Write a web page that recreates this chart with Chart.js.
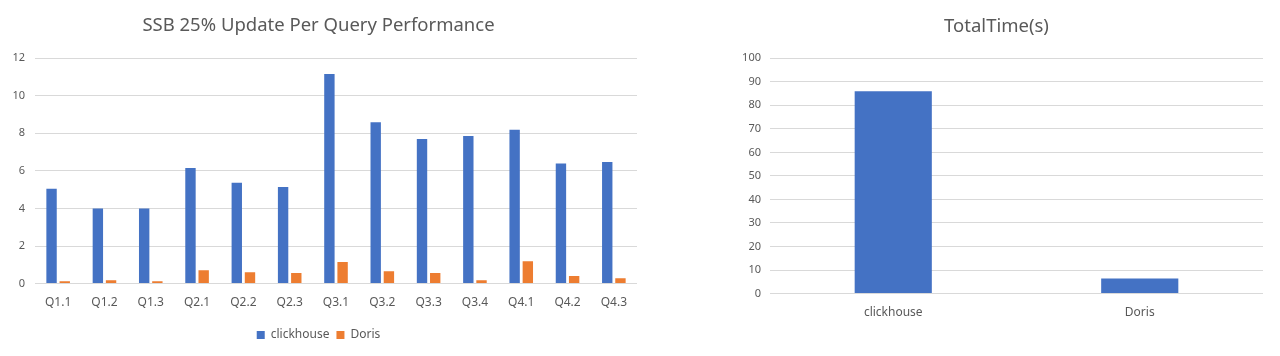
<!DOCTYPE html>
<html>
<head>
<meta charset="utf-8">
<script src="https://cdn.jsdelivr.net/npm/chart.js@4"></script>
<style>
  html, body { margin: 0; padding: 0; background: #ffffff; }
  body { width: 1280px; height: 356px; position: relative; overflow: hidden; }
  .box { position: absolute; top: 0; height: 356px; }
</style>
</head>
<body>
<div class="box" style="left:0;width:650px;"><canvas id="left"></canvas></div>
<div class="box" style="left:730px;width:550px;"><canvas id="right"></canvas></div>
<script>
const queries = ["Q1.1","Q1.2","Q1.3","Q2.1","Q2.2","Q2.3","Q3.1","Q3.2","Q3.3","Q3.4","Q4.1","Q4.2","Q4.3"];
const clickhouseTimes = [5.05, 4.00, 4.00, 6.15, 5.37, 5.14, 11.16, 8.59, 7.70, 7.86, 8.19, 6.40, 6.47];
const dorisTimes = [0.12, 0.18, 0.12, 0.71, 0.60, 0.57, 1.15, 0.66, 0.57, 0.18, 1.19, 0.41, 0.28];
const engines = ["clickhouse", "Doris"];
const totalTimes = [86.0, 6.4];
const leftTitle = "SSB 25% Update Per Query Performance";
const rightTitle = "TotalTime(s)";

const FONT = "'Noto Sans', 'Noto Sans CJK SC', sans-serif";
const TEXT = "#595959";
const GRID = "#d9d9d9";
const BLUE = "#4472C4";
const ORANGE = "#ED7D31";

Chart.defaults.font.family = FONT;
Chart.defaults.color = TEXT;
Chart.defaults.animation = false;

new Chart(document.getElementById("left"), {
  type: "bar",
  data: {
    labels: queries,
    datasets: [
      { label: "clickhouse", data: clickhouseTimes, backgroundColor: BLUE, categoryPercentage: 0.57, barPercentage: 0.787 },
      { label: "Doris", data: dorisTimes, backgroundColor: ORANGE, categoryPercentage: 0.57, barPercentage: 0.787 }
    ]
  },
  options: {
    responsive: true,
    maintainAspectRatio: false,
    layout: { padding: { left: 0, right: 13, top: 0, bottom: 5 } },
    plugins: {
      title: { display: true, text: leftTitle, color: TEXT, font: { size: 18.5, weight: "normal" }, padding: { top: 15, bottom: 21 } },
      legend: {
        position: "bottom",
        labels: { boxWidth: 8, boxHeight: 8, font: { size: 12 }, color: TEXT, padding: 7 }
      },
      tooltip: { enabled: false }
    },
    scales: {
      x: {
        grid: { display: false, drawTicks: false },
        border: { display: false },
        ticks: { font: { size: 12 }, color: TEXT, padding: 12, maxRotation: 0, autoSkip: false }
      },
      y: {
        min: 0, max: 12,
        afterFit: (s) => { s.width = 35; },
        grid: { color: GRID, lineWidth: 1, drawTicks: false },
        border: { display: false },
        ticks: { stepSize: 2, font: { size: 11 }, color: TEXT, padding: 10 }
      }
    }
  }
});

new Chart(document.getElementById("right"), {
  type: "bar",
  data: {
    labels: engines,
    datasets: [
      { label: "TotalTime(s)", data: totalTimes, backgroundColor: BLUE, categoryPercentage: 1.0, barPercentage: 0.313 }
    ]
  },
  options: {
    responsive: true,
    maintainAspectRatio: false,
    layout: { padding: { left: 0, right: 17, top: 0, bottom: 24 } },
    plugins: {
      title: { display: true, text: rightTitle, color: TEXT, font: { size: 18.5, weight: "normal" }, padding: { top: 16, bottom: 20 } },
      legend: { display: false },
      tooltip: { enabled: false }
    },
    scales: {
      x: {
        grid: { display: false, drawTicks: false },
        border: { display: false },
        ticks: { font: { size: 12 }, color: TEXT, padding: 12, maxRotation: 0 }
      },
      y: {
        min: 0, max: 100,
        afterFit: (s) => { s.width = 40; },
        grid: { color: GRID, lineWidth: 1, drawTicks: false },
        border: { display: false },
        ticks: { stepSize: 10, font: { size: 11 }, color: TEXT, padding: 9 }
      }
    }
  }
});
</script>
</body>
</html>
